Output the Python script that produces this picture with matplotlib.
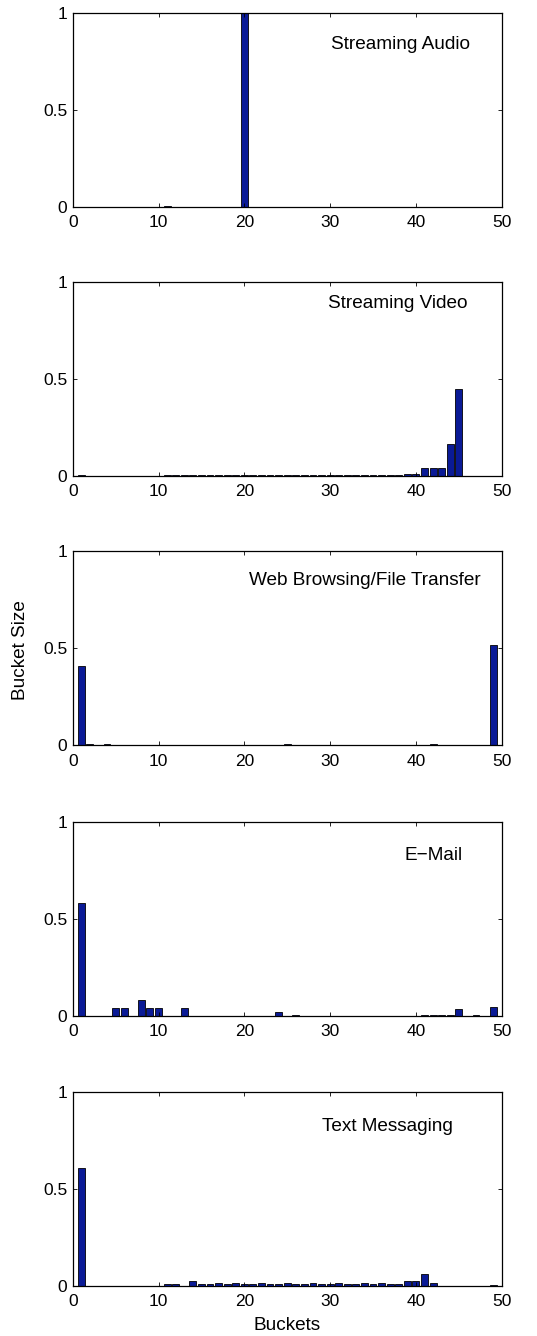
import matplotlib
matplotlib.use("Agg")
import matplotlib.pyplot as plt
import numpy as np

plt.rcParams["font.family"] = ["Liberation Sans", "DejaVu Sans"]

buckets = np.arange(1, 51)

# bucket sizes per traffic class (unlisted buckets are 0)
audio = {11: 0.002, 20: 1.0}
video = {1: 0.006, 2: 0.001, 3: 0.001, 4: 0.002, 5: 0.001, 6: 0.001, 7: 0.001,
         8: 0.001, 9: 0.001, 10: 0.002, 11: 0.006, 12: 0.003, 13: 0.003, 14: 0.003,
         15: 0.003, 16: 0.003, 17: 0.003, 18: 0.003, 19: 0.003, 20: 0.003,
         21: 0.003, 22: 0.003, 23: 0.003, 24: 0.003, 25: 0.003, 26: 0.003,
         27: 0.003, 28: 0.003, 29: 0.003, 30: 0.003, 31: 0.003, 32: 0.003,
         33: 0.003, 34: 0.003, 35: 0.003, 36: 0.003, 37: 0.003, 38: 0.003,
         39: 0.012, 40: 0.012, 41: 0.043, 42: 0.043, 43: 0.04, 44: 0.165, 45: 0.45}
web = {1: 0.41, 2: 0.005, 4: 0.005, 9: 0.001, 10: 0.002, 25: 0.005,
       36: 0.001, 42: 0.006, 49: 0.515}
email = {1: 0.58, 5: 0.041, 6: 0.041, 8: 0.081, 9: 0.041, 10: 0.041, 13: 0.041,
         24: 0.019, 26: 0.002, 41: 0.002, 42: 0.004, 43: 0.002, 44: 0.002,
         45: 0.036, 47: 0.002, 49: 0.046}
text = {1: 0.607, 11: 0.008, 12: 0.008, 14: 0.025, 15: 0.008, 16: 0.008,
        17: 0.014, 18: 0.008, 19: 0.014, 20: 0.006, 21: 0.008, 22: 0.014,
        23: 0.008, 24: 0.008, 25: 0.014, 26: 0.008, 27: 0.008, 28: 0.014,
        29: 0.008, 30: 0.006, 31: 0.014, 32: 0.008, 33: 0.008, 34: 0.016,
        35: 0.008, 36: 0.014, 37: 0.008, 38: 0.006, 39: 0.026, 40: 0.026,
        41: 0.06, 42: 0.014, 49: 0.003}

series = [audio, video, web, email, text]
titles = ["Streaming Audio", "Streaming Video", "Web Browsing/File Transfer",
          "E\u2212Mail", "Text Messaging"]
# right end of each class label (data coords)
label_pos = [(46.3, 0.835), (46.0, 0.89), (47.5, 0.85), (45.5, 0.825), (44.3, 0.82)]

fig = plt.figure(figsize=(5.37, 13.36), dpi=100)
left, width, height = 0.1354, 0.7989, 0.1452
bottoms = [0.8453, 0.6437, 0.4421, 0.2398, 0.0377]

for i in range(5):
    ax = fig.add_axes([left, bottoms[i], width, height])
    vals = [series[i].get(b, 0.0) for b in buckets]
    ax.bar(buckets, vals, width=0.8, color="#0a1a96", edgecolor="black", linewidth=0.6)
    ax.set_xlim(0, 50)
    ax.set_ylim(0, 1)
    ax.set_xticks([0, 10, 20, 30, 40, 50])
    ax.set_yticks([0, 0.5, 1])
    ax.set_yticklabels(["0", "0.5", "1"])
    ax.tick_params(direction="in", top=True, right=True, length=3, width=0.6,
                   labelsize=12.5)
    ax.tick_params(axis="x", pad=6)
    ax.tick_params(axis="y", pad=4)
    for s in ax.spines.values():
        s.set_linewidth(0.9)
    ax.text(label_pos[i][0], label_pos[i][1], titles[i], fontsize=13.7,
            ha="right", va="center")

fig.text(21 / 537, 1 - 650 / 1336, "Bucket Size", rotation=90, ha="center",
         va="center", fontsize=13.7)
fig.text(287 / 537, 1 - 1325 / 1336, "Buckets", ha="center", va="center", fontsize=13.7)

fig.savefig("out.png", dpi=100)
